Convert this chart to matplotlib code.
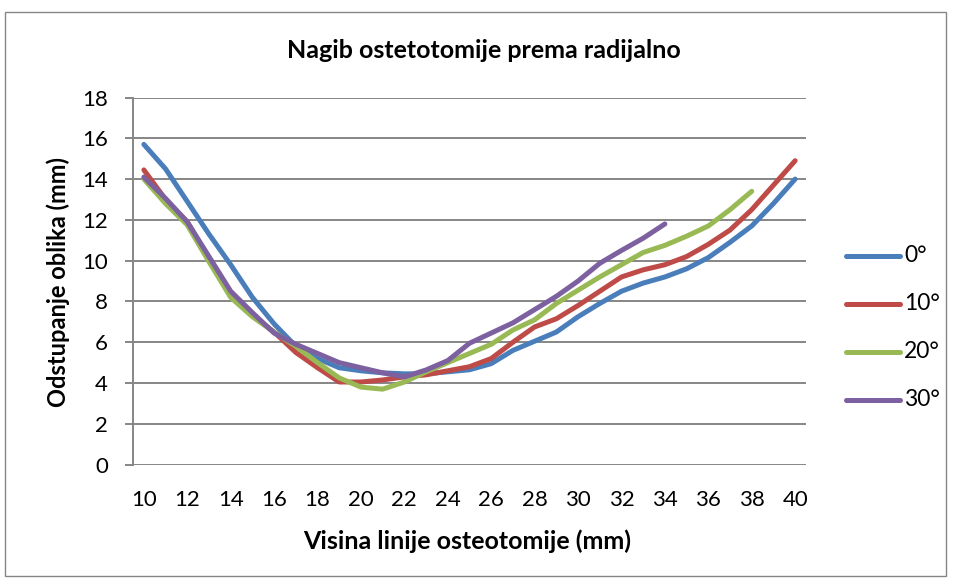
import matplotlib
matplotlib.use("Agg")
import matplotlib.pyplot as plt
from matplotlib.lines import Line2D
from matplotlib.patches import Rectangle

plt.rcParams['font.family'] = ['Lato', 'DejaVu Sans']

x_all = list(range(10, 41))
series_names = ["0°", "10°", "20°", "30°"]
colors = ["#4A7EBB", "#BE4B48", "#98B954", "#7D60A0"]

s0 = [15.7, 14.5, 12.9, 11.3, 9.8, 8.2, 6.9, 5.8, 5.2, 4.75, 4.6, 4.5, 4.45, 4.45, 4.55, 4.65,
      4.95, 5.6, 6.05, 6.5, 7.25, 7.9, 8.5, 8.9, 9.2, 9.6, 10.15, 10.9, 11.7, 12.8, 14.0]
s10 = [14.45, 13.0, 11.9, 10.1, 8.4, 7.3, 6.5, 5.5, 4.75, 4.05, 4.05, 4.15, 4.3, 4.4, 4.6, 4.8,
       5.2, 6.0, 6.75, 7.15, 7.8, 8.5, 9.2, 9.55, 9.8, 10.2, 10.8, 11.5, 12.5, 13.7, 14.9]
s20 = [14.0, 12.8, 11.75, 9.95, 8.2, 7.25, 6.5, 5.8, 5.0, 4.25, 3.8, 3.7, 4.05, 4.55, 5.0, 5.45,
       5.9, 6.6, 7.1, 7.9, 8.55, 9.2, 9.8, 10.4, 10.75, 11.2, 11.7, 12.5, 13.4]
s30 = [14.1, 13.05, 11.9, 10.2, 8.5, 7.45, 6.45, 5.9, 5.45, 5.0, 4.75, 4.5, 4.3, 4.64, 5.1, 5.95,
       6.45, 6.95, 7.6, 8.25, 9.0, 9.87, 10.5, 11.1, 11.8]
series = [s0, s10, s20, s30]

x_ticks = list(range(10, 41, 2))
y_ticks = list(range(0, 19, 2))

title = "Nagib ostetotomije prema radijalno"
xlabel = "Visina linije osteotomije (mm)"
ylabel = "Odstupanje oblika (mm)"

W, H = 957, 581
fig = plt.figure(figsize=(W / 100, H / 100), dpi=100)

# outer chart border
fig.patches.append(Rectangle((5 / W, 1 - 576 / H), (946 - 5) / W, (576 - 12) / H,
                             transform=fig.transFigure, fill=False,
                             edgecolor="#868686", linewidth=1.0))

L, R, T, B = 133, 806, 97.5, 464.6
ax = fig.add_axes([L / W, 1 - B / H, (R - L) / W, (B - T) / H])

for vals, c in zip(series, colors):
    ax.plot(x_all[:len(vals)], vals, color=c, linewidth=3.6,
            solid_capstyle="round", solid_joinstyle="round", zorder=3)

ax.set_xlim(9.5, 40.5)
ax.set_ylim(0, 18)
ax.set_yticks(y_ticks)
ax.set_xticks(x_ticks)
ax.set_xticklabels([str(t) for t in x_ticks])
ax.grid(axis="y", color="#868686", linewidth=1.4)
ax.set_axisbelow(True)
for side in ["top", "right", "bottom"]:
    ax.spines[side].set_visible(False)
ax.spines["left"].set_color("#868686")
ax.spines["left"].set_linewidth(1.4)
ax.tick_params(axis="y", length=6, width=1.4, color="#868686", pad=12, labelsize=16)
ax.tick_params(axis="x", length=0, pad=18, labelsize=16)

fig.text(484 / W, 1 - 50 / H, title, ha="center", va="center",
         fontsize=18, fontweight="bold")
fig.text(467 / W, 1 - 541 / H, xlabel, ha="center", va="center",
         fontsize=18, fontweight="bold")
fig.text(58 / W, 1 - 282 / H, ylabel, ha="center", va="center",
         fontsize=17, fontweight="bold", rotation=90)

# legend
leg_y = [256, 304, 352, 400]
for name, c, yy in zip(series_names, colors, leg_y):
    fig.lines.append(Line2D([846 / W, 900 / W], [1 - yy / H, 1 - yy / H],
                            transform=fig.transFigure, color=c, linewidth=3.6,
                            solid_capstyle="round"))
    fig.text(904 / W, 1 - yy / H, name, ha="left", va="center", fontsize=16.5)

fig.savefig("out.png", dpi=100)
